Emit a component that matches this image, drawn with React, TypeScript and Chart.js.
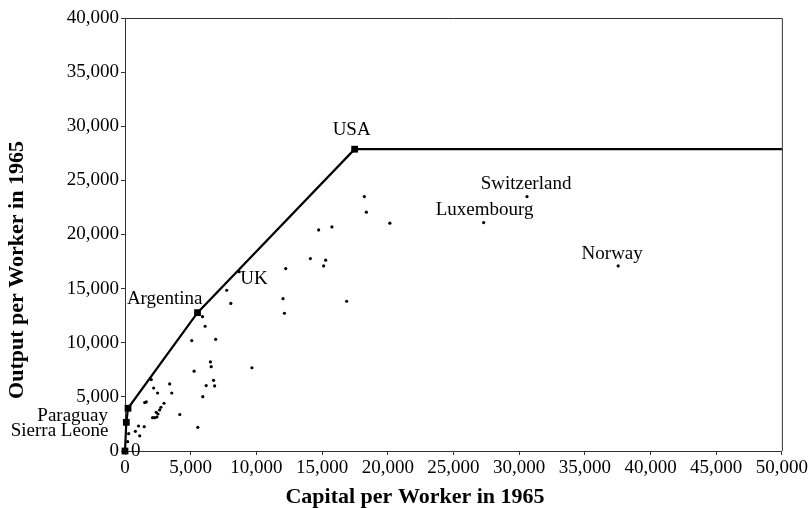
import React, { useEffect, useRef } from "react";
import { Chart, registerables } from "chart.js";

Chart.register(...registerables);

// World production frontier (capital per worker, output per worker) 1965
const frontierCapital = [0, 100, 230, 5520, 17480, 50000];
const frontierOutput = [0, 2650, 3950, 12780, 27880, 27880];
const frontierMarker = [true, true, true, true, true, false];

// Individual countries
const countryCapital = [
  2000, 3400, 2180, 2480, 3560, 6740, 6180, 6820, 5920, 1500,
  1620, 2970, 2735, 2640, 2380, 2510, 2100, 2260, 2430, 4170,
  5540, 1030, 1460, 790, 1120, 280, 200, 5260, 9660, 6500,
  6560, 5080, 6900, 6100, 5900, 8055, 7740, 8690, 12030, 12135,
  12235, 14110, 15275, 15120, 14740, 15750, 16870, 18215, 18370, 20160,
  27300, 30600, 37540,
];
const countryOutput = [
  6600, 6200, 5820, 5360, 5360, 6530, 6040, 6010, 5020, 4470,
  4530, 4410, 4040, 3790, 3575, 3420, 3080, 3080, 3140, 3370,
  2190, 2310, 2250, 1820, 1400, 1600, 860, 7370, 7690, 8230,
  7790, 10200, 10320, 11525, 12410, 13630, 14850, 16570, 14075, 12725,
  16850, 17775, 17625, 17100, 20425, 20700, 13835, 23500, 22060, 21050,
  21100, 23500, 17100,
];

// Annotated points
const labelNames = ["0", "Sierra Leone", "Paraguay", "Argentina", "UK", "USA", "Luxembourg", "Switzerland", "Norway"];
const labelCapital = [0, 100, 230, 5520, 8690, 17480, 27300, 30600, 37540];
const labelOutput = [0, 2650, 3950, 12780, 16570, 27880, 21100, 23500, 17100];

const xTickValues = [0, 5000, 10000, 15000, 20000, 25000, 30000, 35000, 40000, 45000, 50000];
const yTickValues = [0, 5000, 10000, 15000, 20000, 25000, 30000, 35000, 40000];

const xTitle = "Capital per Worker in 1965";
const yTitle = "Output per Worker in 1965";

const FONT = "'Liberation Serif', 'Times New Roman', serif";

// label placement relative to its point: [dx, dy(baseline), align]
const labelPlacement: Record<string, [number, number, CanvasTextAlign]> = {
  "0": [6, 5, "left"],
  "Sierra Leone": [-18, 14, "right"],
  Paraguay: [-20, 13, "right"],
  Argentina: [5, -9, "right"],
  UK: [1, 12, "left"],
  USA: [-3, -14, "center"],
  Luxembourg: [1, -8, "center"],
  Switzerland: [-1, -8, "center"],
  Norway: [-6, -7, "center"],
};

const fmt = (v: number) => Number(v).toLocaleString("en-US");

const framePlugin = {
  id: "frame",
  beforeDatasetsDraw(chart: any) {
    const { ctx, chartArea } = chart;
    ctx.save();
    ctx.strokeStyle = "#333";
    ctx.lineWidth = 1;
    ctx.beginPath();
    ctx.moveTo(chartArea.left, chartArea.top + 0.5);
    ctx.lineTo(chartArea.right + 0.5, chartArea.top + 0.5);
    ctx.lineTo(chartArea.right + 0.5, chartArea.bottom);
    ctx.stroke();
    ctx.restore();
  },
};

const textPlugin = {
  id: "texts",
  afterDraw(chart: any) {
    const { ctx, scales } = chart;
    const xs = scales.x;
    const ys = scales.y;
    ctx.save();
    ctx.fillStyle = "#000";
    ctx.font = `19px ${FONT}`;
    ctx.textBaseline = "alphabetic";
    labelNames.forEach((name, i) => {
      const px = xs.getPixelForValue(labelCapital[i]);
      const py = ys.getPixelForValue(labelOutput[i]);
      const [dx, dy, align] = labelPlacement[name];
      ctx.textAlign = align;
      ctx.fillText(name, px + dx, py + dy);
    });
    // axis titles
    ctx.font = `bold 22px ${FONT}`;
    ctx.textAlign = "center";
    ctx.textBaseline = "middle";
    ctx.fillText(xTitle, 415, 497);
    ctx.translate(17, 270);
    ctx.rotate(-Math.PI / 2);
    ctx.fillText(yTitle, 0, 0);
    ctx.restore();
  },
};

export default function App() {
  const ref = useRef<HTMLCanvasElement | null>(null);
  useEffect(() => {
    if (!ref.current) return;
    const chart = new Chart(ref.current, {
      type: "scatter",
      data: {
        datasets: [
          {
            type: "line",
            label: "Frontier",
            data: frontierCapital.map((x, i) => ({ x, y: frontierOutput[i] })),
            borderColor: "#000",
            borderWidth: 2.2,
            backgroundColor: "#000",
            pointStyle: "rect",
            pointRadius: frontierMarker.map((m) => (m ? 4.8 : 0)),
            pointBorderWidth: 0,
            pointBackgroundColor: "#000",
            fill: false,
            tension: 0,
            clip: false,
          } as any,
          {
            label: "Countries",
            data: countryCapital.map((x, i) => ({ x, y: countryOutput[i] })),
            pointRadius: 1.6,
            pointBorderWidth: 0,
            pointBackgroundColor: "#000",
            backgroundColor: "#000",
            clip: false,
          } as any,
        ],
      },
      options: {
        animation: false,
        responsive: false,
        events: [],
        layout: { padding: { top: 18, right: 27, left: 0, bottom: 0 } },
        plugins: {
          legend: { display: false },
          tooltip: { enabled: false },
          title: { display: false },
        },
        scales: {
          x: {
            type: "linear",
            min: 0,
            max: 50000,
            afterBuildTicks: (s: any) => {
              s.ticks = xTickValues.map((v) => ({ value: v }));
            },
            afterFit: (s: any) => {
              s.height = 57;
            },
            ticks: {
              callback: (v: any) => fmt(v),
              font: { family: FONT, size: 19 },
              color: "#000",
              padding: 2,
              maxRotation: 0,
              autoSkip: false,
            },
            grid: { drawOnChartArea: false, drawTicks: true, tickLength: 4, color: "#333" },
            border: { display: true, color: "#333", width: 1 },
          },
          y: {
            type: "linear",
            min: 0,
            max: 40000,
            afterBuildTicks: (s: any) => {
              s.ticks = yTickValues.map((v) => ({ value: v }));
            },
            afterFit: (s: any) => {
              s.width = 125;
            },
            ticks: {
              callback: (v: any) => fmt(v),
              font: { family: FONT, size: 19 },
              color: "#000",
              padding: 2,
              autoSkip: false,
            },
            grid: { drawOnChartArea: false, drawTicks: true, tickLength: 4, color: "#333" },
            border: { display: true, color: "#333", width: 1 },
          },
        },
      } as any,
      plugins: [framePlugin, textPlugin],
    });
    return () => chart.destroy();
  }, []);
  return (
    <div style={{ position: "fixed", left: 0, top: 0, width: 810, height: 508, background: "#fff" }}>
      <canvas ref={ref} width={810} height={508} style={{ display: "block" }} />
    </div>
  );
}
